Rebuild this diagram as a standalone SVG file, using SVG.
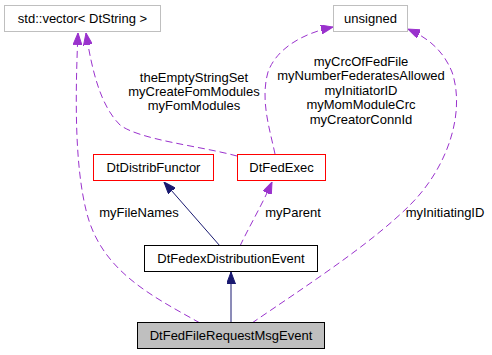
<svg xmlns="http://www.w3.org/2000/svg" width="492" height="355" viewBox="0 0 492 355">
<defs>
<style>
text{font-family:"Liberation Sans",Arial,sans-serif;font-size:13px;fill:#000}
.n text{text-anchor:middle}
.lbl{text-anchor:middle}
rect{stroke-width:1}
.grey{fill:#fff;stroke:#bfbfbf}
.red{fill:#fff;stroke:#ff0000}
.blk{fill:#fff;stroke:#000}
.cur{fill:#bfbfbf;stroke:#000}
.inh{fill:none;stroke:#191970;stroke-width:1}
.use{fill:none;stroke:#9a32cd;stroke-width:1;stroke-dasharray:7,4}
</style>
<marker id="ah" markerUnits="userSpaceOnUse" markerWidth="12" markerHeight="9" viewBox="0 0 12 9" refX="12" refY="4.5" orient="auto"><path d="M0,0 L12,4.5 L0,9 z" fill="#191970" stroke="#191970"/></marker>
<marker id="ap" markerUnits="userSpaceOnUse" markerWidth="12" markerHeight="9" viewBox="0 0 12 9" refX="12" refY="4.5" orient="auto"><path d="M0,0 L12,4.5 L0,9 z" fill="#9a32cd" stroke="#9a32cd"/></marker>
</defs>
<rect width="492" height="355" fill="#fff"/>
<g id="edges">
<path class="inh" d="M220,246 L164,182" marker-end="url(#ah)"/>
<path class="inh" d="M231,323 L231,272" marker-end="url(#ah)"/>
<path class="use" d="M240,246 C250,225 262,205 272,182" marker-end="url(#ap)"/>
<path class="use" d="M200,323 C150,295 100,270 86,210 C75,165 75,100 78,33" marker-end="url(#ap)"/>
<path class="use" d="M237,156 C200,146 140,140 120,125 C100,105 92,70 86,33" marker-end="url(#ap)"/>
<path class="use" d="M275,154 C270,130 260,100 268,72 C276,50 300,34 333,27" marker-end="url(#ap)"/>
<path class="use" d="M252,323 C300,290 370,245 410,205 C450,165 465,110 452,72 C443,50 428,38 408,29" marker-end="url(#ap)"/>
</g>
<g class="lbl">
<text x="194" y="82" class="lbl">theEmptyStringSet</text>
<text x="194" y="96" class="lbl">myCreateFomModules</text>
<text x="194" y="110" class="lbl">myFomModules</text>
<text x="361" y="66" class="lbl">myCrcOfFedFile</text>
<text x="361" y="80" class="lbl">myNumberFederatesAllowed</text>
<text x="361" y="95" class="lbl">myInitiatorID</text>
<text x="361" y="109" class="lbl">myMomModuleCrc</text>
<text x="361" y="124" class="lbl">myCreatorConnId</text>
<text x="139" y="217" class="lbl">myFileNames</text>
<text x="293" y="217" class="lbl">myParent</text>
<text x="445" y="217" class="lbl">myInitiatingID</text>
</g>
<g id="vector" class="n"><rect class="grey" x="4.5" y="5.5" width="156" height="26"/><text x="82.5" y="23">std::vector&lt; DtString &gt;</text></g>
<g id="unsigned" class="n"><rect class="grey" x="333.5" y="5.5" width="74" height="26"/><text x="370.5" y="23">unsigned</text></g>
<g id="DtDistribFunctor" class="n"><rect class="red" x="93.5" y="154.5" width="120" height="26"/><text x="153.5" y="172">DtDistribFunctor</text></g>
<g id="DtFedExec" class="n"><rect class="red" x="237.5" y="154.5" width="88" height="26"/><text x="281.5" y="172">DtFedExec</text></g>
<g id="DtFedexDistributionEvent" class="n"><rect class="blk" x="144.5" y="245.5" width="173" height="26"/><text x="231" y="263">DtFedexDistributionEvent</text></g>
<g id="DtFedFileRequestMsgEvent" class="n"><rect class="cur" x="137.5" y="322.5" width="187" height="26"/><text x="231" y="340">DtFedFileRequestMsgEvent</text></g>
</svg>
